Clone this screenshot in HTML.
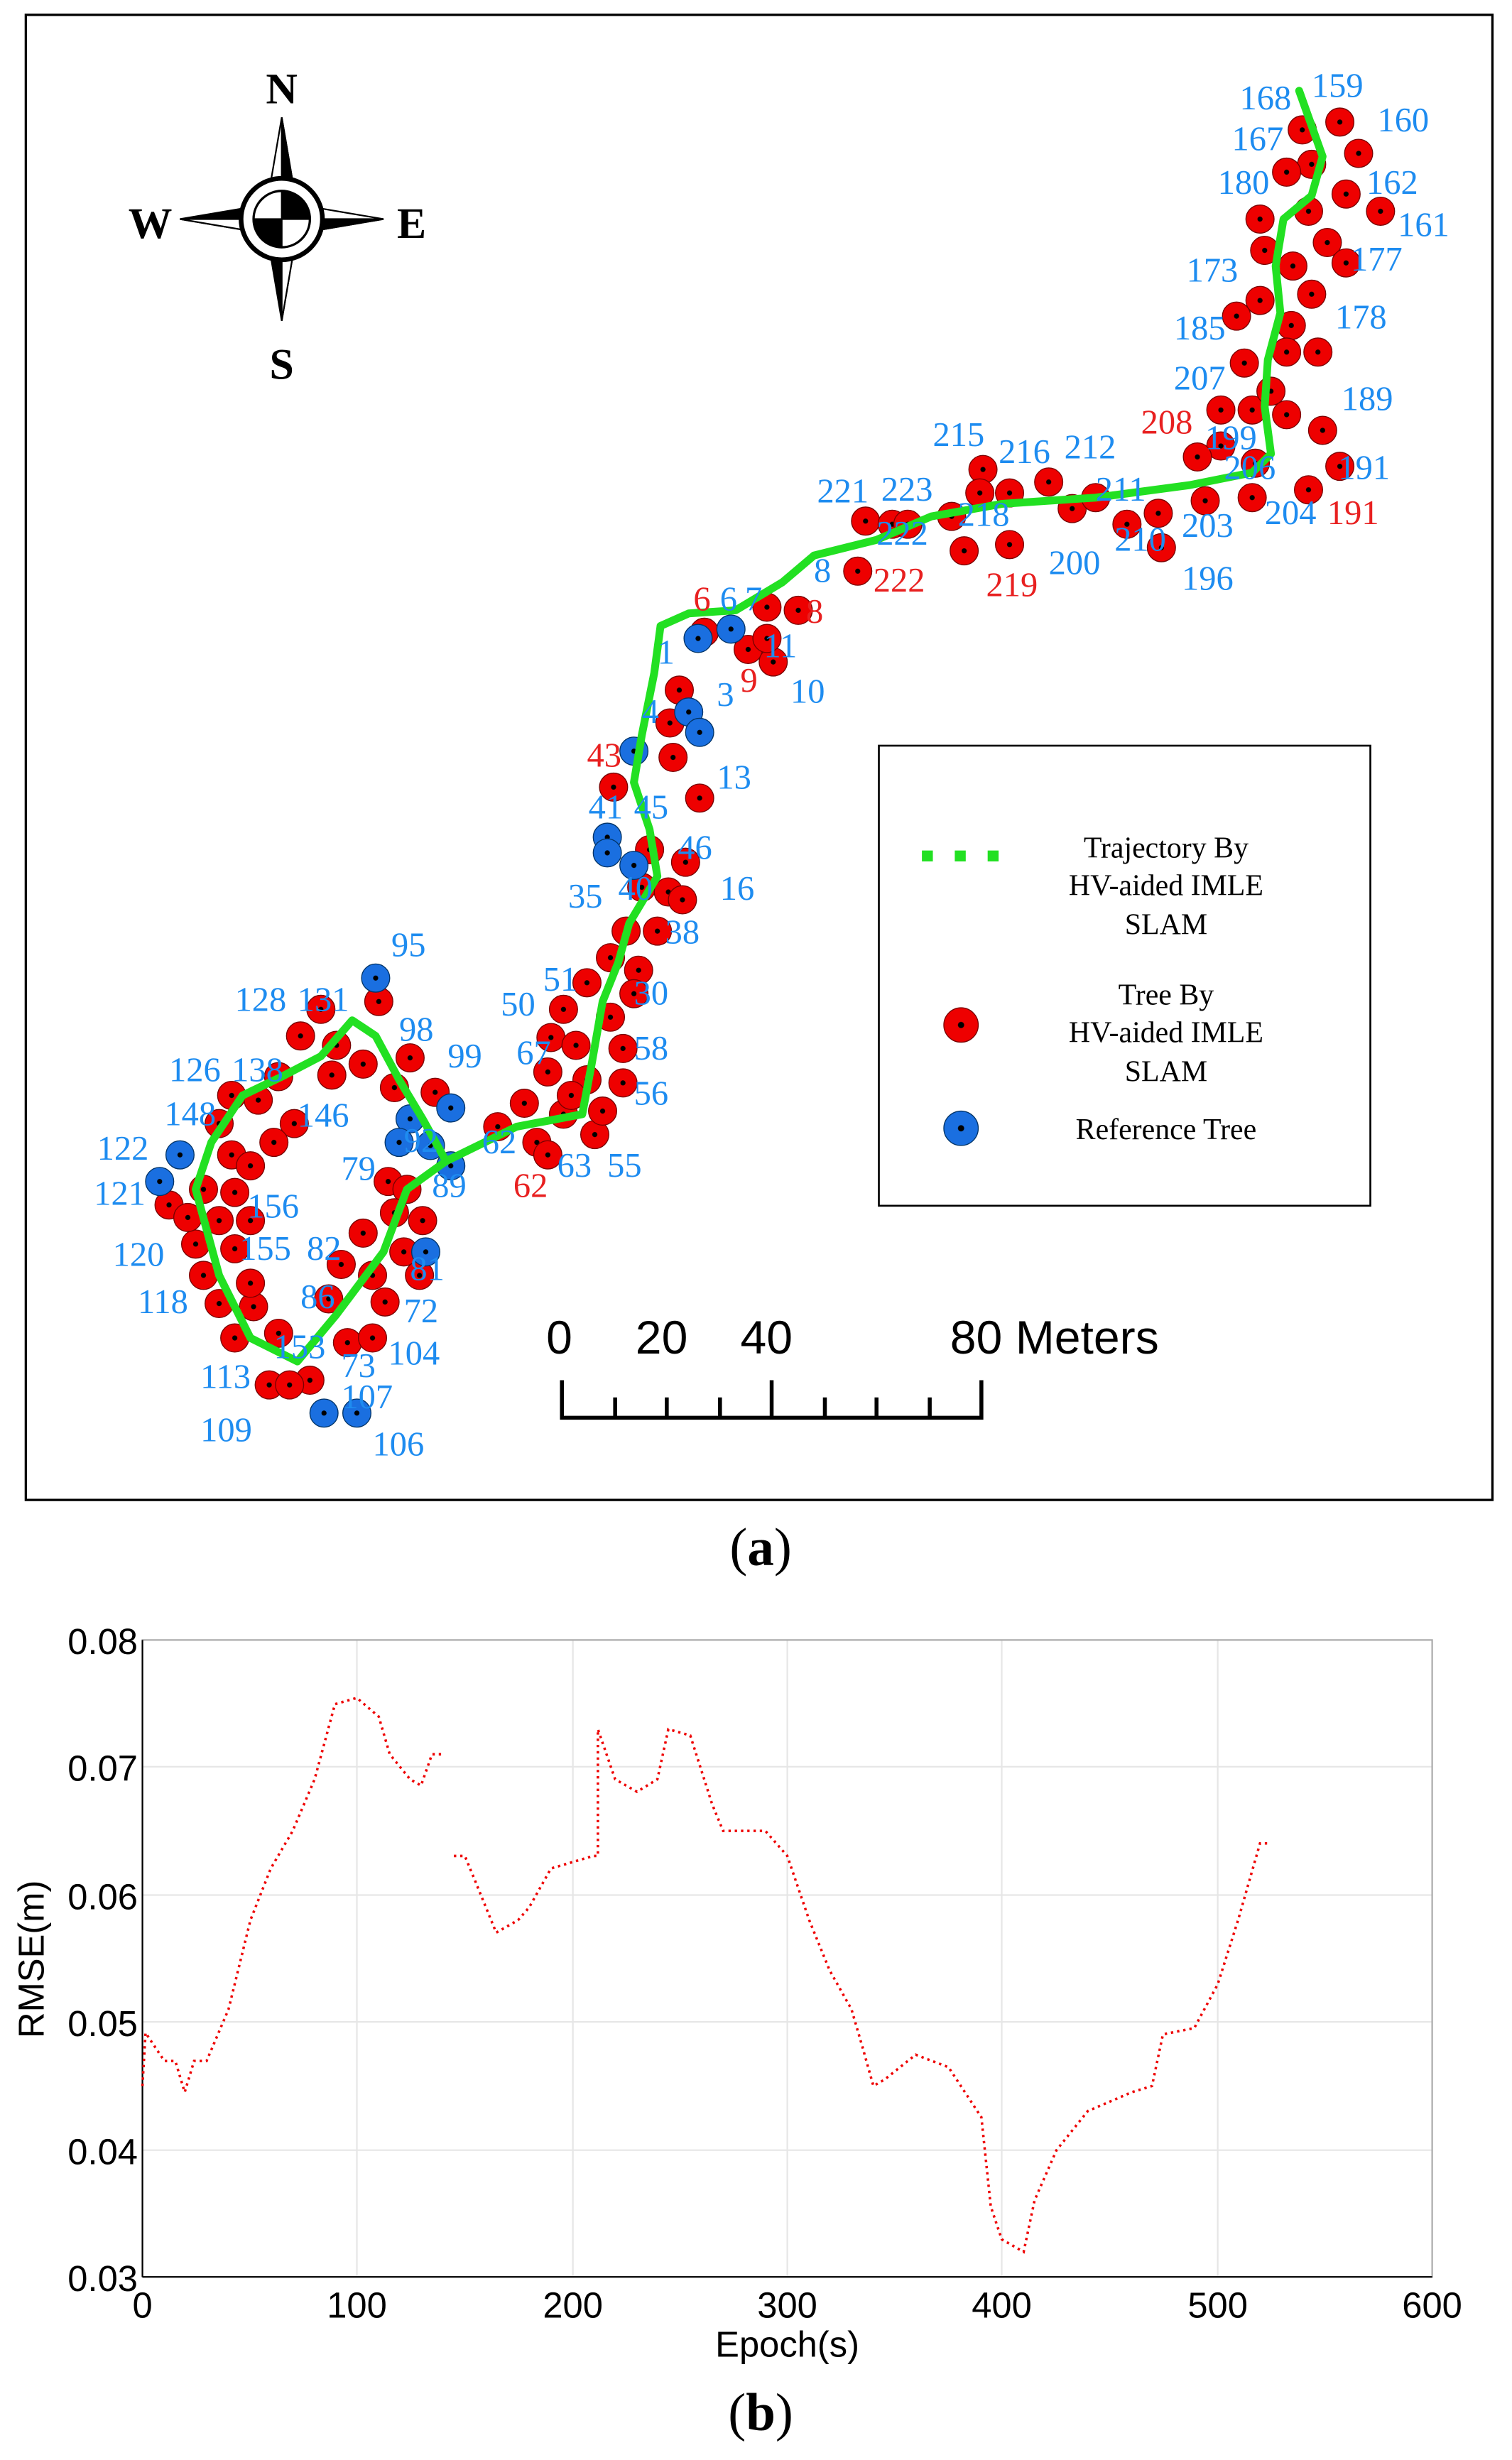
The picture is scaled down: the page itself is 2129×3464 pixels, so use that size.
<!DOCTYPE html>
<html><head><meta charset="utf-8"><style>
html,body{margin:0;padding:0;background:#fff;}
svg{display:block;}
.r{fill:url(#gr);stroke:#700;stroke-width:0.6}
.b{fill:url(#gb);stroke:#036;stroke-width:0.6}
.lb{font-family:"Liberation Serif",serif;font-size:22px;fill:#1e8cf0}
.lr{font-family:"Liberation Serif",serif;font-size:22px;fill:#e82020}
</style></head><body>
<svg width="2129" height="3464" viewBox="0 0 966 1572" preserveAspectRatio="none" xmlns="http://www.w3.org/2000/svg">
<defs>
<radialGradient id="gr"><stop offset="0.16" stop-color="#000"/><stop offset="0.2" stop-color="#e00"/><stop offset="1" stop-color="#e00"/></radialGradient>
<radialGradient id="gb"><stop offset="0.16" stop-color="#000"/><stop offset="0.2" stop-color="#1a6fe0"/><stop offset="1" stop-color="#1a6fe0"/></radialGradient>
</defs>
<rect x="0" y="0" width="966" height="1572" fill="#fff"/>
<rect x="16.5" y="9.5" width="937" height="949" fill="#fff" stroke="#000" stroke-width="1.5"/>
<g transform="translate(180,140)" stroke="#000" stroke-width="1">
<polygon points="0,-65 -8,-18 8,-18" fill="#fff"/><polygon points="0,-65 0,-18 8,-18" fill="#000"/>
<polygon points="0,65 -8,18 8,18" fill="#000"/><polygon points="0,65 0,18 8,18" fill="#fff"/>
<polygon points="-65,0 -18,-8 -18,8" fill="#000"/><polygon points="-65,0 -18,0 -18,8" fill="#fff"/>
<polygon points="65,0 18,-8 18,8" fill="#fff"/><polygon points="65,0 18,0 18,8" fill="#000"/>
<circle r="26" fill="#fff" stroke-width="3"/>
<path d="M0,0 L0,-18 A18,18 0 0 1 18,0 Z M0,0 L0,18 A18,18 0 0 1 -18,0 Z" fill="#000"/>
<circle r="18" fill="none" stroke-width="1.5"/>
</g>
<g font-family="Liberation Serif,serif" font-size="28" font-weight="bold" fill="#000" text-anchor="middle">
<text x="180" y="66">N</text><text x="180" y="242">S</text><text x="96" y="152">W</text><text x="263" y="152">E</text></g>
<g class="r">
<circle cx="856" cy="78" r="9"/><circle cx="868" cy="98" r="9"/><circle cx="832" cy="83" r="9"/><circle cx="838" cy="105" r="9"/><circle cx="822" cy="110" r="9"/><circle cx="860" cy="124" r="9"/><circle cx="882" cy="135" r="9"/><circle cx="805" cy="140" r="9"/><circle cx="836" cy="135" r="9"/><circle cx="848" cy="155" r="9"/><circle cx="860" cy="168" r="9"/><circle cx="808" cy="160" r="9"/><circle cx="838" cy="188" r="9"/><circle cx="805" cy="192" r="9"/><circle cx="790" cy="202" r="9"/><circle cx="825" cy="208" r="9"/><circle cx="842" cy="225" r="9"/><circle cx="822" cy="225" r="9"/><circle cx="795" cy="232" r="9"/><circle cx="780" cy="262" r="9"/><circle cx="800" cy="262" r="9"/><circle cx="822" cy="265" r="9"/><circle cx="845" cy="275" r="9"/><circle cx="780" cy="285" r="9"/><circle cx="765" cy="292" r="9"/><circle cx="802" cy="296" r="9"/><circle cx="856" cy="298" r="9"/><circle cx="836" cy="313" r="9"/><circle cx="800" cy="318" r="9"/><circle cx="770" cy="320" r="9"/><circle cx="740" cy="328" r="9"/><circle cx="742" cy="350" r="9"/><circle cx="720" cy="335" r="9"/><circle cx="812" cy="250" r="9"/><circle cx="826" cy="170" r="9"/>
<circle cx="628" cy="300" r="9"/><circle cx="626" cy="315" r="9"/><circle cx="645" cy="315" r="9"/><circle cx="670" cy="308" r="9"/><circle cx="685" cy="325" r="9"/><circle cx="700" cy="318" r="9"/><circle cx="608" cy="330" r="9"/><circle cx="553" cy="333" r="9"/><circle cx="570" cy="335" r="9"/><circle cx="580" cy="335" r="9"/><circle cx="616" cy="352" r="9"/><circle cx="645" cy="348" r="9"/><circle cx="548" cy="365" r="9"/>
<circle cx="490" cy="388" r="9"/><circle cx="510" cy="390" r="9"/><circle cx="450" cy="404" r="9"/><circle cx="478" cy="415" r="9"/><circle cx="494" cy="423" r="9"/><circle cx="490" cy="408" r="9"/><circle cx="434" cy="441" r="9"/><circle cx="428" cy="462" r="9"/><circle cx="430" cy="484" r="9"/><circle cx="392" cy="503" r="9"/><circle cx="447" cy="510" r="9"/><circle cx="415" cy="543" r="9"/><circle cx="438" cy="551" r="9"/><circle cx="410" cy="567" r="9"/><circle cx="427" cy="570" r="9"/><circle cx="436" cy="575" r="9"/><circle cx="400" cy="595" r="9"/><circle cx="420" cy="595" r="9"/><circle cx="390" cy="612" r="9"/><circle cx="408" cy="620" r="9"/><circle cx="375" cy="628" r="9"/><circle cx="405" cy="635" r="9"/><circle cx="360" cy="645" r="9"/><circle cx="390" cy="650" r="9"/><circle cx="352" cy="663" r="9"/><circle cx="368" cy="668" r="9"/><circle cx="398" cy="670" r="9"/><circle cx="350" cy="685" r="9"/><circle cx="375" cy="690" r="9"/><circle cx="398" cy="692" r="9"/><circle cx="335" cy="705" r="9"/><circle cx="360" cy="712" r="9"/><circle cx="318" cy="720" r="9"/><circle cx="343" cy="730" r="9"/><circle cx="350" cy="738" r="9"/><circle cx="380" cy="725" r="9"/><circle cx="365" cy="700" r="9"/><circle cx="385" cy="710" r="9"/>
<circle cx="205" cy="645" r="9"/><circle cx="242" cy="640" r="9"/><circle cx="192" cy="662" r="9"/><circle cx="215" cy="668" r="9"/><circle cx="232" cy="680" r="9"/><circle cx="262" cy="676" r="9"/><circle cx="178" cy="688" r="9"/><circle cx="212" cy="687" r="9"/><circle cx="252" cy="695" r="9"/><circle cx="278" cy="698" r="9"/><circle cx="148" cy="700" r="9"/><circle cx="165" cy="703" r="9"/><circle cx="188" cy="718" r="9"/><circle cx="140" cy="718" r="9"/><circle cx="175" cy="730" r="9"/><circle cx="148" cy="738" r="9"/><circle cx="160" cy="745" r="9"/><circle cx="108" cy="770" r="9"/><circle cx="150" cy="762" r="9"/><circle cx="160" cy="780" r="9"/><circle cx="140" cy="780" r="9"/><circle cx="125" cy="795" r="9"/><circle cx="150" cy="798" r="9"/><circle cx="130" cy="815" r="9"/><circle cx="140" cy="833" r="9"/><circle cx="162" cy="835" r="9"/><circle cx="150" cy="855" r="9"/><circle cx="178" cy="852" r="9"/><circle cx="172" cy="885" r="9"/><circle cx="198" cy="882" r="9"/><circle cx="248" cy="755" r="9"/><circle cx="260" cy="760" r="9"/><circle cx="252" cy="775" r="9"/><circle cx="270" cy="780" r="9"/><circle cx="232" cy="788" r="9"/><circle cx="258" cy="800" r="9"/><circle cx="218" cy="808" r="9"/><circle cx="238" cy="815" r="9"/><circle cx="268" cy="815" r="9"/><circle cx="210" cy="830" r="9"/><circle cx="246" cy="832" r="9"/><circle cx="222" cy="858" r="9"/><circle cx="238" cy="855" r="9"/><circle cx="130" cy="760" r="9"/><circle cx="120" cy="778" r="9"/><circle cx="160" cy="820" r="9"/><circle cx="185" cy="885" r="9"/>
</g>
<g class="b">
<circle cx="467" cy="402" r="9"/><circle cx="446" cy="408" r="9"/><circle cx="440" cy="455" r="9"/><circle cx="447" cy="468" r="9"/><circle cx="405" cy="480" r="9"/><circle cx="388" cy="535" r="9"/><circle cx="388" cy="545" r="9"/><circle cx="405" cy="553" r="9"/><circle cx="240" cy="625" r="9"/><circle cx="288" cy="708" r="9"/><circle cx="262" cy="715" r="9"/><circle cx="255" cy="730" r="9"/><circle cx="275" cy="732" r="9"/><circle cx="288" cy="745" r="9"/><circle cx="115" cy="738" r="9"/><circle cx="102" cy="755" r="9"/><circle cx="272" cy="800" r="9"/><circle cx="207" cy="903" r="9"/><circle cx="228" cy="903" r="9"/>
</g>
<polyline fill="none" stroke="#22e022" stroke-width="5" stroke-linejoin="round" stroke-linecap="round" points="830,58 845,100 838,125 820,140 815,170 818,200 810,230 808,260 812,290 800,302 760,310 700,318 640,322 595,330 560,345 520,355 500,372 470,390 440,392 422,400 418,430 410,470 405,500 415,530 420,560 402,590 395,615 385,640 378,680 372,712 330,720 285,742 260,760 245,800 215,840 190,870 160,855 140,815 125,760 135,730 155,700 180,688 205,675 225,652 240,662 255,690 270,715 285,742"/>
<g class="lb">
<text x="792" y="70">168</text><text x="838" y="62">159</text><text x="880" y="84">160</text><text x="787" y="96">167</text><text x="778" y="124">180</text><text x="873" y="124">162</text><text x="893" y="151">161</text><text x="758" y="180">173</text><text x="863" y="173">177</text><text x="853" y="210">178</text><text x="750" y="217">185</text><text x="750" y="249">207</text><text x="857" y="262">189</text><text x="855" y="306">191</text><text x="770" y="287">199</text><text x="782" y="306">206</text><text x="808" y="335">204</text><text x="755" y="343">203</text><text x="755" y="377">196</text><text x="712" y="352">210</text><text x="700" y="320">211</text><text x="670" y="367">200</text><text x="596" y="285">215</text><text x="638" y="296">216</text><text x="680" y="293">212</text><text x="522" y="321">221</text><text x="563" y="320">223</text><text x="560" y="348">222</text><text x="612" y="336">218</text><text x="520" y="372">8</text><text x="460" y="390">6</text><text x="476" y="390">7</text><text x="420" y="424">1</text><text x="488" y="420">11</text><text x="505" y="449">10</text><text x="458" y="451">3</text><text x="410" y="462">4</text><text x="458" y="504">13</text><text x="376" y="523">41</text><text x="405" y="523">45</text><text x="433" y="549">46</text><text x="460" y="575">16</text><text x="363" y="580">35</text><text x="395" y="575">40</text><text x="425" y="603">38</text><text x="347" y="633">51</text><text x="320" y="649">50</text><text x="405" y="642">30</text><text x="405" y="677">58</text><text x="405" y="706">56</text><text x="330" y="680">67</text><text x="356" y="752">63</text><text x="388" y="752">55</text><text x="308" y="737">62</text><text x="250" y="611">95</text><text x="150" y="646">128</text><text x="190" y="646">131</text><text x="255" y="665">98</text><text x="286" y="682">99</text><text x="108" y="691">126</text><text x="148" y="691">138</text><text x="190" y="720">146</text><text x="105" y="719">148</text><text x="62" y="741">122</text><text x="60" y="770">121</text><text x="158" y="778">156</text><text x="72" y="809">120</text><text x="153" y="805">155</text><text x="196" y="805">82</text><text x="88" y="839">118</text><text x="128" y="887">113</text><text x="128" y="921">109</text><text x="218" y="900">107</text><text x="238" y="930">106</text><text x="248" y="872">104</text><text x="258" y="845">72</text><text x="262" y="818">81</text><text x="218" y="754">79</text><text x="276" y="765">89</text><text x="258" y="736">92</text><text x="192" y="836">86</text><text x="175" y="868">153</text><text x="218" y="880">73</text></g>
<g class="lr"><text x="729" y="277">208</text><text x="848" y="335">191</text><text x="558" y="378">222</text><text x="630" y="381">219</text><text x="443" y="390">6</text><text x="515" y="398">8</text><text x="473" y="442">9</text><text x="375" y="490">43</text><text x="328" y="765">62</text></g>
<rect x="561.5" y="476.5" width="314" height="294" fill="#fff" stroke="#000" stroke-width="1.2"/>
<line x1="589" y1="547" x2="650" y2="547" stroke="#22e022" stroke-width="7" stroke-dasharray="7 14"/>
<circle class="r" cx="614" cy="655" r="11"/>
<circle class="b" cx="614" cy="721" r="11"/>
<g font-family="Liberation Serif,serif" font-size="19" fill="#000" text-anchor="middle">
<text x="745" y="548">Trajectory By</text><text x="745" y="572">HV-aided IMLE</text><text x="745" y="597">SLAM</text>
<text x="745" y="642">Tree By</text><text x="745" y="666">HV-aided IMLE</text><text x="745" y="691">SLAM</text>
<text x="745" y="728">Reference Tree</text></g>
<g font-family="Liberation Sans,sans-serif" font-size="30" fill="#000">
<text x="349" y="865">0</text><text x="406" y="865">20</text><text x="473" y="865">40</text><text x="607" y="865">80 Meters</text></g>
<path d="M359,882 V906 H627 V882 M393,906 V893 M426,906 V893 M460,906 V893 M493,906 V882 M527,906 V893 M560,906 V893 M594,906 V893" stroke="#000" stroke-width="2.5" fill="none"/>
<text x="486" y="1000" font-family="Liberation Serif,serif" font-size="34" text-anchor="middle">(<tspan font-weight="bold">a</tspan>)</text>
<g stroke="#e6e6e6" stroke-width="1">
<line x1="228" y1="1048" x2="228" y2="1455"/><line x1="366" y1="1048" x2="366" y2="1455"/><line x1="503" y1="1048" x2="503" y2="1455"/><line x1="640" y1="1048" x2="640" y2="1455"/><line x1="778" y1="1048" x2="778" y2="1455"/>
<line x1="91" y1="1129" x2="915" y2="1129"/><line x1="91" y1="1211" x2="915" y2="1211"/><line x1="91" y1="1292" x2="915" y2="1292"/><line x1="91" y1="1374" x2="915" y2="1374"/></g>
<rect x="91" y="1048" width="824" height="407" fill="none" stroke="#aaa" stroke-width="1"/>
<line x1="91" y1="1048" x2="91" y2="1455" stroke="#000" stroke-width="1"/><line x1="91" y1="1455" x2="915" y2="1455" stroke="#000" stroke-width="1"/>
<g font-family="Liberation Sans,sans-serif" font-size="23" fill="#000">
<g text-anchor="end"><text x="88" y="1057">0.08</text><text x="88" y="1138">0.07</text><text x="88" y="1220">0.06</text><text x="88" y="1301">0.05</text><text x="88" y="1383">0.04</text><text x="88" y="1464">0.03</text></g>
<g text-anchor="middle"><text x="91" y="1481">0</text><text x="228" y="1481">100</text><text x="366" y="1481">200</text><text x="503" y="1481">300</text><text x="640" y="1481">400</text><text x="778" y="1481">500</text><text x="915" y="1481">600</text>
<text x="503" y="1506">Epoch(s)</text>
<text transform="translate(28,1252) rotate(-90)">RMSE(m)</text></g></g>
<polyline fill="none" stroke="#e00" stroke-width="1.6" stroke-dasharray="1.5 2.5" points="91,1333 93,1299 105,1317 112,1317 118,1337 124,1317 132,1317 146,1284 160,1227 173,1194 187,1170 201,1137 214,1089 228,1085 242,1097 249,1121 262,1137 269,1141 276,1121 283,1121"/>
<polyline fill="none" stroke="#e00" stroke-width="1.6" stroke-dasharray="1.5 2.5" points="290,1186 297,1186 304,1203 317,1235 331,1227 338,1219 352,1194 379,1186 382,1186 382,1105 393,1137 407,1145 420,1137 427,1105 441,1109 455,1153 462,1170 489,1170 503,1186 517,1227 530,1259 544,1284 551,1308 558,1333 565,1329 585,1313 606,1321 627,1353 633,1410 640,1431 654,1439 661,1406 675,1374 695,1349 723,1337 736,1333 743,1300 763,1296 778,1268 791,1227 805,1178 812,1178"/>
<text x="486" y="1553" font-family="Liberation Serif,serif" font-size="34" text-anchor="middle">(<tspan font-weight="bold">b</tspan>)</text>
</svg>
</body></html>
